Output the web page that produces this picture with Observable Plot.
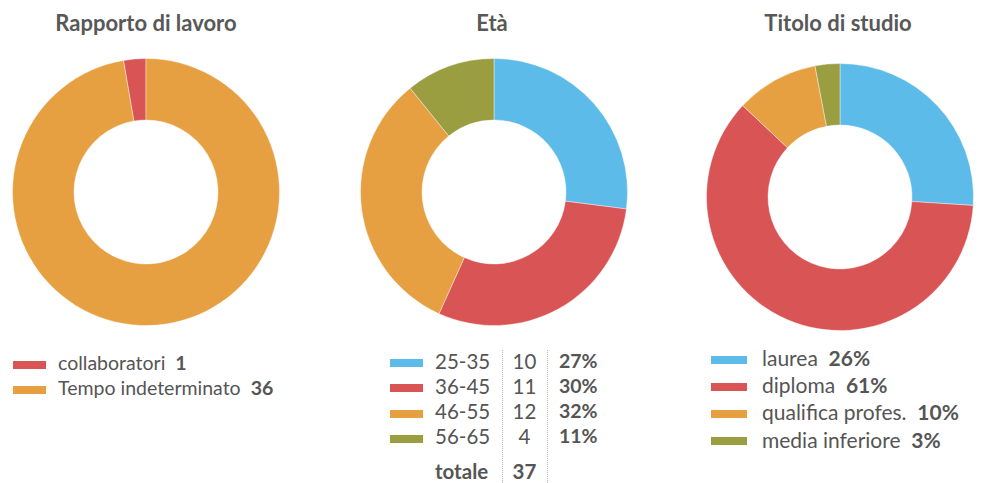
<!DOCTYPE html>
<html>
<head>
<meta charset="utf-8">
<script src="https://cdn.jsdelivr.net/npm/d3@7"></script>
<script src="https://cdn.jsdelivr.net/npm/@observablehq/plot@0.6"></script>
<style>
  html, body { margin: 0; padding: 0; background: #fff; }
  #root { position: relative; width: 989px; height: 483px; overflow: hidden; font-family: Lato, "Open Sans", sans-serif; color: #555; }
  .abs { position: absolute; }
  .title { position: absolute; font-weight: 700; font-size: 22px; line-height: 1; text-align: center; white-space: nowrap; color: #585858; }
  .sw { position: absolute; height: 8px; }
  .txt { position: absolute; line-height: 1; white-space: nowrap; }
  .vline { position: absolute; width: 0; border-left: 1px dotted #b5b5b5; }
  b { font-weight: 700; }
</style>
</head>
<body>
<div id="root"></div>
<script>
// ---------- data ----------
const lavoroLabels = ["collaboratori", "Tempo indeterminato"];
const lavoroValues = [1, 36];
const lavoroColors = ["#d95455", "#e6a042"];

const etaLabels = ["25-35", "36-45", "46-55", "56-65"];
const etaValues = [10, 11, 12, 4];
const etaPct = ["27%", "30%", "32%", "11%"];
const etaTotalLabel = "totale";
const etaTotal = 37;
const etaColors = ["#5dbbea", "#d95455", "#e6a042", "#9a9e41"];

const studioLabels = ["laurea", "diploma", "qualifica profes.", "media inferiore"];
const studioValues = [26, 61, 10, 3];
const studioColors = ["#5dbbea", "#d95455", "#e6a042", "#9a9e41"];

const titles = ["Rapporto di lavoro", "Età", "Titolo di studio"];

// ---------- donut via Plot ----------
const SIZE = 280, R_OUT = 133.5, R_IN = 72;
function donut(labels, values, colors, sortDesc) {
  const data = labels.map((label, i) => ({label, value: values[i]}));
  const pie = d3.pie().value(d => d.value);
  if (!sortDesc) pie.sort(null);
  const arcs = pie(data);
  const arc = d3.arc().innerRadius(R_IN).outerRadius(R_OUT);
  const colorScale = Plot.scale({color: {type: "ordinal", domain: labels, range: colors}});
  const arcMark = (index, scales, values, dims) => {
    const color = (scales && scales.color) ? scales.color : (v => colorScale.apply(v));
    const w = (dims && dims.width) || SIZE, h = (dims && dims.height) || SIZE;
    const g = d3.create("svg:g").attr("transform", `translate(${w / 2},${h / 2})`);
    g.selectAll("path").data(arcs).join("path")
      .attr("d", arc)
      .attr("fill", a => color(a.data.label))
      .attr("stroke", "#fff").attr("stroke-width", 0.4);
    return g.node();
  };
  return Plot.plot({
    width: SIZE, height: SIZE, margin: 0,
    style: {background: "transparent", overflow: "visible"},
    color: {type: "ordinal", domain: labels, range: colors},
    marks: [arcMark]
  });
}

const root = document.getElementById("root");
function el(cls, style, html) {
  const d = document.createElement("div");
  d.className = cls;
  Object.assign(d.style, style);
  if (html !== undefined) d.innerHTML = html;
  root.appendChild(d);
  return d;
}

// ---------- donuts ----------
const centers = [[146, 192], [494, 192], [839.5, 197]];
const charts = [
  donut(lavoroLabels, lavoroValues, lavoroColors, true),
  donut(etaLabels, etaValues, etaColors, false),
  donut(studioLabels, studioValues, studioColors, false)
];
charts.forEach((svg, i) => {
  const w = el("abs", {left: (centers[i][0] - SIZE / 2) + "px", top: (centers[i][1] - SIZE / 2) + "px", width: SIZE + "px", height: SIZE + "px"});
  w.appendChild(svg);
});

// ---------- titles ----------
const titleX = [146, 492, 838];
titles.forEach((t, i) => {
  el("title", {left: (titleX[i] - 150) + "px", width: "300px", top: "11.5px"}, t);
});

// ---------- legend 1 ----------
lavoroLabels.forEach((lab, i) => {
  const cy = 365 + i * 24.5;
  el("sw", {left: "13px", width: "33px", top: (cy - 4) + "px", background: lavoroColors[i]});
  el("txt", {left: "58px", top: (cy - 12) + "px", fontSize: "19.5px"}, `${lab}&nbsp; <b>${lavoroValues[i]}</b>`);
});

// ---------- legend 2 ----------
el("vline", {left: "501.5px", top: "350px", height: "133px"});
el("vline", {left: "547px", top: "350px", height: "133px"});
etaLabels.forEach((lab, i) => {
  const cy = 363 + i * 25.3;
  const fs = "20.5px";
  el("sw", {left: "390px", width: "33px", top: (cy - 4) + "px", background: etaColors[i]});
  el("txt", {left: "435px", top: (cy - 12.5) + "px", fontSize: fs}, lab);
  el("txt", {left: "502px", width: "45px", textAlign: "center", top: (cy - 12.5) + "px", fontSize: fs}, String(etaValues[i]));
  el("txt", {left: "559px", top: (cy - 12.5) + "px", fontSize: "19.5px"}, `<b>${etaPct[i]}</b>`);
});
{
  const cy = 473;
  el("txt", {left: "435px", top: (cy - 12.5) + "px", fontSize: "20.5px"}, `<b>${etaTotalLabel}</b>`);
  el("txt", {left: "502px", width: "45px", textAlign: "center", top: (cy - 12.5) + "px", fontSize: "20.5px"}, `<b>${etaTotal}</b>`);
}

// ---------- legend 3 ----------
studioLabels.forEach((lab, i) => {
  const cy = 359.5 + i * 27.2;
  el("sw", {left: "711px", width: "36px", top: (cy - 4) + "px", background: studioColors[i]});
  el("txt", {left: "762px", top: (cy - 12.5) + "px", fontSize: "21px"}, `${lab}&nbsp; <b>${studioValues[i]}%</b>`);
});
</script>
</body>
</html>
